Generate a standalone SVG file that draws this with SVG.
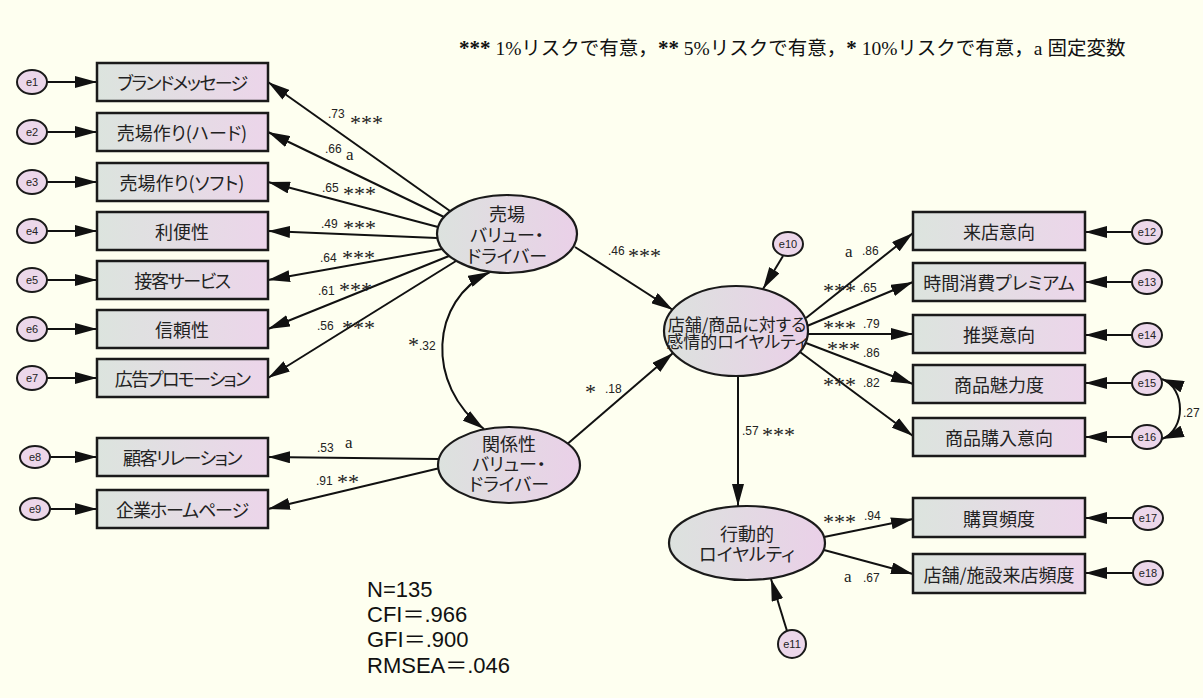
<svg xmlns="http://www.w3.org/2000/svg" width="1203" height="698" viewBox="0 0 1203 698">
<defs>
<linearGradient id="gb" x1="0" y1="0" x2="1" y2="0"><stop offset="0" stop-color="#DCE4DE"/><stop offset="1" stop-color="#ECD5EA"/></linearGradient>
<linearGradient id="ge" x1="0" y1="0" x2="1" y2="0"><stop offset="0" stop-color="#DCE2DE"/><stop offset="1" stop-color="#EAD0E8"/></linearGradient>
<marker id="ah" markerUnits="userSpaceOnUse" markerWidth="22" markerHeight="12" refX="22" refY="6" orient="auto-start-reverse"><path d="M0,0 L22,6 L0,12 z" fill="#111"/></marker>
<style>
.bx{fill:url(#gb);stroke:#1a1a1a;stroke-width:2.5}
.el{fill:url(#ge);stroke:#1a1a1a;stroke-width:2.2}
.er{fill:#ECD7EA;stroke:#1a1a1a;stroke-width:2}
.et{font-family:"Liberation Sans",Arial,sans-serif;font-size:11px;fill:#222;text-anchor:middle;dominant-baseline:central}
.t{font-family:"Noto Sans CJK JP",sans-serif;font-size:18px;fill:#222;text-anchor:middle;dominant-baseline:central;font-feature-settings:"palt" 1}
.k{letter-spacing:-1.3px}
.tl{font-family:"Noto Sans CJK JP",sans-serif;font-size:17px;fill:#222;text-anchor:middle;dominant-baseline:central;font-feature-settings:"palt" 1}
.c{fill:none;stroke:#111;stroke-width:2;marker-end:url(#ah)}
.cc{fill:none;stroke:#111;stroke-width:2;marker-end:url(#ah);marker-start:url(#ah)}
.n{font-family:"Liberation Sans",Arial,sans-serif;font-size:12px;fill:#222}
.s{font-family:"Liberation Serif","Times New Roman",serif;font-size:22px;fill:#222}
.a{font-family:"Liberation Serif","Times New Roman",serif;font-size:17px;fill:#222}
.st{font-family:"Liberation Sans","Noto Sans CJK JP",Arial,sans-serif;font-size:22px;fill:#111}
.lg{font-family:"Liberation Serif","Noto Sans CJK JP",serif;font-size:19.5px;fill:#111}
.lgs{font-family:"Liberation Serif",serif;font-size:21px;font-weight:bold}
</style>
</defs>
<rect width="1203" height="698" fill="#FEFFF0"/>

<g id="connectors">
<line class="c" x1="47" y1="82" x2="97" y2="82"/>
<line class="c" x1="47" y1="132" x2="97" y2="132"/>
<line class="c" x1="47" y1="182" x2="97" y2="182"/>
<line class="c" x1="47" y1="231" x2="97" y2="231"/>
<line class="c" x1="47" y1="280" x2="97" y2="280"/>
<line class="c" x1="47" y1="329" x2="97" y2="329"/>
<line class="c" x1="47" y1="378" x2="97" y2="378"/>
<line class="c" x1="50" y1="457" x2="97" y2="457"/>
<line class="c" x1="50" y1="509" x2="97" y2="509"/>
<line class="c" x1="450" y1="211" x2="268" y2="82"/>
<line class="c" x1="444" y1="217" x2="268" y2="132"/>
<line class="c" x1="438" y1="227" x2="268" y2="182"/>
<line class="c" x1="437" y1="238" x2="268" y2="231"/>
<line class="c" x1="442" y1="249" x2="268" y2="280"/>
<line class="c" x1="449" y1="256" x2="268" y2="329"/>
<line class="c" x1="456" y1="261" x2="268" y2="378"/>
<line class="c" x1="439" y1="459" x2="268" y2="457"/>
<line class="c" x1="440" y1="468" x2="268" y2="509"/>
<path class="cc" d="M490,272 C430,300 425,385 484,429"/>
<line class="c" x1="575" y1="247" x2="673" y2="310"/>
<line class="c" x1="565" y1="446" x2="673" y2="353"/>
<line class="c" x1="783" y1="256" x2="763" y2="289"/>
<line class="c" x1="806" y1="318" x2="913" y2="233"/>
<line class="c" x1="807" y1="326" x2="913" y2="282"/>
<line class="c" x1="808" y1="334" x2="913" y2="334"/>
<line class="c" x1="806" y1="343" x2="913" y2="384"/>
<line class="c" x1="800" y1="352" x2="913" y2="436"/>
<line class="c" x1="738" y1="376" x2="738" y2="506"/>
<line class="c" x1="787" y1="631" x2="771" y2="579"/>
<line class="c" x1="824" y1="537" x2="913" y2="519"/>
<line class="c" x1="824" y1="550" x2="913" y2="574"/>
<line class="c" x1="1132" y1="232" x2="1085" y2="232"/>
<line class="c" x1="1132" y1="282" x2="1085" y2="282"/>
<line class="c" x1="1132" y1="335" x2="1085" y2="335"/>
<line class="c" x1="1132" y1="383" x2="1085" y2="383"/>
<line class="c" x1="1132" y1="437" x2="1085" y2="437"/>
<line class="c" x1="1133" y1="518" x2="1085" y2="518"/>
<line class="c" x1="1133" y1="573" x2="1085" y2="573"/>
<path class="cc" d="M1162,379 C1186,388 1186,430 1162,439"/>
</g>

<g id="labels">
<text class="n" x="328" y="118">.73</text><text class="s" x="350" y="130">***</text>
<text class="n" x="325" y="153">.66</text><text class="a" x="346" y="160">a</text>
<text class="n" x="322" y="192">.65</text><text class="s" x="343" y="201">***</text>
<text class="n" x="321" y="228">.49</text><text class="s" x="343" y="235">***</text>
<text class="n" x="320" y="262">.64</text><text class="s" x="342" y="265">***</text>
<text class="n" x="318" y="295">.61</text><text class="s" x="339" y="297">***</text>
<text class="n" x="317" y="330">.56</text><text class="s" x="342" y="335">***</text>
<text class="n" x="317" y="452">.53</text><text class="a" x="345" y="448">a</text>
<text class="n" x="316" y="485">.91</text><text class="s" x="337" y="489">**</text>
<text class="n" x="608" y="255">.46</text><text class="s" x="628" y="263">***</text>
<text class="s" x="585" y="399">*</text><text class="n" x="605" y="393">.18</text>
<text class="s" x="408" y="352">*</text><text class="n" x="419" y="350">.32</text>
<text class="a" x="845" y="257">a</text><text class="n" x="862" y="255">.86</text>
<text class="s" x="823" y="298">***</text><text class="n" x="860" y="292">.65</text>
<text class="s" x="823" y="335">***</text><text class="n" x="863" y="328">.79</text>
<text class="s" x="827" y="356">***</text><text class="n" x="863" y="357">.86</text>
<text class="s" x="823" y="392">***</text><text class="n" x="863" y="387">.82</text>
<text class="n" x="742" y="435">.57</text><text class="s" x="762" y="442">***</text>
<text class="s" x="823" y="529">***</text><text class="n" x="864" y="520">.94</text>
<text class="a" x="844" y="582">a</text><text class="n" x="863" y="582">.67</text>
<text class="n" x="1183" y="417">.27</text>
</g>

<g id="e1"><ellipse class="er" cx="32" cy="82" rx="15" ry="12"/><text class="et" x="32" y="82">e1</text></g>
<g id="e2"><ellipse class="er" cx="32" cy="132" rx="15" ry="12"/><text class="et" x="32" y="132">e2</text></g>
<g id="e3"><ellipse class="er" cx="32" cy="182" rx="15" ry="12"/><text class="et" x="32" y="182">e3</text></g>
<g id="e4"><ellipse class="er" cx="32" cy="231" rx="15" ry="12"/><text class="et" x="32" y="231">e4</text></g>
<g id="e5"><ellipse class="er" cx="32" cy="280" rx="15" ry="12"/><text class="et" x="32" y="280">e5</text></g>
<g id="e6"><ellipse class="er" cx="32" cy="329" rx="15" ry="12"/><text class="et" x="32" y="329">e6</text></g>
<g id="e7"><ellipse class="er" cx="32" cy="378" rx="15" ry="12"/><text class="et" x="32" y="378">e7</text></g>
<g id="e8"><ellipse class="er" cx="35" cy="457" rx="15" ry="11"/><text class="et" x="35" y="457">e8</text></g>
<g id="e9"><ellipse class="er" cx="35" cy="509" rx="15" ry="11"/><text class="et" x="35" y="509">e9</text></g>
<g id="e10"><ellipse class="er" cx="788" cy="244" rx="15" ry="12"/><text class="et" x="788" y="244">e10</text></g>
<g id="e11"><ellipse class="er" cx="792" cy="644" rx="14" ry="14"/><text class="et" x="792" y="644">e11</text></g>
<g id="e12"><ellipse class="er" cx="1147" cy="232" rx="15" ry="12"/><text class="et" x="1147" y="232">e12</text></g>
<g id="e13"><ellipse class="er" cx="1147" cy="282" rx="15" ry="12"/><text class="et" x="1147" y="282">e13</text></g>
<g id="e14"><ellipse class="er" cx="1147" cy="335" rx="15" ry="12"/><text class="et" x="1147" y="335">e14</text></g>
<g id="e15"><ellipse class="er" cx="1147" cy="383" rx="15" ry="12"/><text class="et" x="1147" y="383">e15</text></g>
<g id="e16"><ellipse class="er" cx="1147" cy="437" rx="15" ry="12"/><text class="et" x="1147" y="437">e16</text></g>
<g id="e17"><ellipse class="er" cx="1148" cy="518" rx="15" ry="12"/><text class="et" x="1148" y="518">e17</text></g>
<g id="e18"><ellipse class="er" cx="1148" cy="573" rx="15" ry="12"/><text class="et" x="1148" y="573">e18</text></g>

<g id="b1"><rect class="bx" x="97" y="63" width="171" height="38"/><text class="t k" x="182" y="82" style="letter-spacing:-1.6px">ブランドメッセージ</text></g>
<g id="b2"><rect class="bx" x="97" y="113" width="171" height="38"/><text class="t" x="182" y="132">売場作り(ハード)</text></g>
<g id="b3"><rect class="bx" x="97" y="163" width="171" height="38"/><text class="t" x="182" y="182">売場作り(ソフト)</text></g>
<g id="b4"><rect class="bx" x="97" y="212" width="171" height="38"/><text class="t" x="182" y="231">利便性</text></g>
<g id="b5"><rect class="bx" x="97" y="261" width="171" height="38"/><text class="t k" x="182" y="280">接客サービス</text></g>
<g id="b6"><rect class="bx" x="97" y="310" width="171" height="38"/><text class="t" x="182" y="329">信頼性</text></g>
<g id="b7"><rect class="bx" x="97" y="359" width="171" height="38"/><text class="t k" x="182" y="378" style="letter-spacing:-1.8px">広告プロモーション</text></g>
<g id="b8"><rect class="bx" x="97" y="438" width="171" height="38"/><text class="t k" x="182" y="457" style="letter-spacing:-1.5px">顧客リレーション</text></g>
<g id="b9"><rect class="bx" x="97" y="490" width="171" height="38"/><text class="t k" x="182" y="509" style="letter-spacing:-1.1px">企業ホームページ</text></g>

<g id="b10"><rect class="bx" x="913" y="212" width="172" height="38"/><text class="t" x="999" y="231">来店意向</text></g>
<g id="b11"><rect class="bx" x="913" y="263" width="172" height="38"/><text class="t" x="999" y="282">時間消費プレミアム</text></g>
<g id="b12"><rect class="bx" x="913" y="315" width="172" height="38"/><text class="t" x="999" y="334">推奨意向</text></g>
<g id="b13"><rect class="bx" x="913" y="365" width="172" height="38"/><text class="t" x="999" y="384">商品魅力度</text></g>
<g id="b14"><rect class="bx" x="913" y="418" width="172" height="38"/><text class="t" x="999" y="437">商品購入意向</text></g>
<g id="b15"><rect class="bx" x="913" y="498" width="172" height="39"/><text class="t" x="999" y="517.5">購買頻度</text></g>
<g id="b16"><rect class="bx" x="913" y="554" width="172" height="39"/><text class="t" x="999" y="573.5">店舗/施設来店頻度</text></g>

<g id="uriba"><ellipse class="el" cx="507" cy="234" rx="70" ry="39"/><text class="t" x="507" y="213">売場<tspan x="507" dy="21">バリュー・</tspan><tspan x="507" dy="21">ドライバー</tspan></text></g>
<g id="kankei"><ellipse class="el" cx="509" cy="465" rx="71" ry="38"/><text class="t" x="509" y="443">関係性<tspan x="509" dy="20">バリュー・</tspan><tspan x="509" dy="20">ドライバー</tspan></text></g>
<g id="loyalty"><ellipse class="el" cx="736" cy="331" rx="72" ry="45"/><text class="tl" x="737" y="323">店舗/商品に対する<tspan x="737" dy="17">感情的ロイヤルティ</tspan></text></g>
<g id="koudou"><ellipse class="el" cx="747" cy="543" rx="78" ry="37"/><text class="t" x="747" y="533">行動的<tspan x="747" dy="20">ロイヤルティ</tspan></text></g>

<g id="legend">
<text class="lg" x="459" y="55"><tspan class="lgs">***</tspan> 1%リスクで有意，<tspan class="lgs">**</tspan> 5%リスクで有意，<tspan class="lgs">*</tspan> 10%リスクで有意，a 固定変数</text>
</g>

<g id="stats">
<text class="st" x="367" y="597">N=135</text>
<text class="st" x="367" y="622">CFI＝.966</text>
<text class="st" x="367" y="647">GFI＝.900</text>
<text class="st" x="367" y="673">RMSEA＝.046</text>
</g>
</svg>
